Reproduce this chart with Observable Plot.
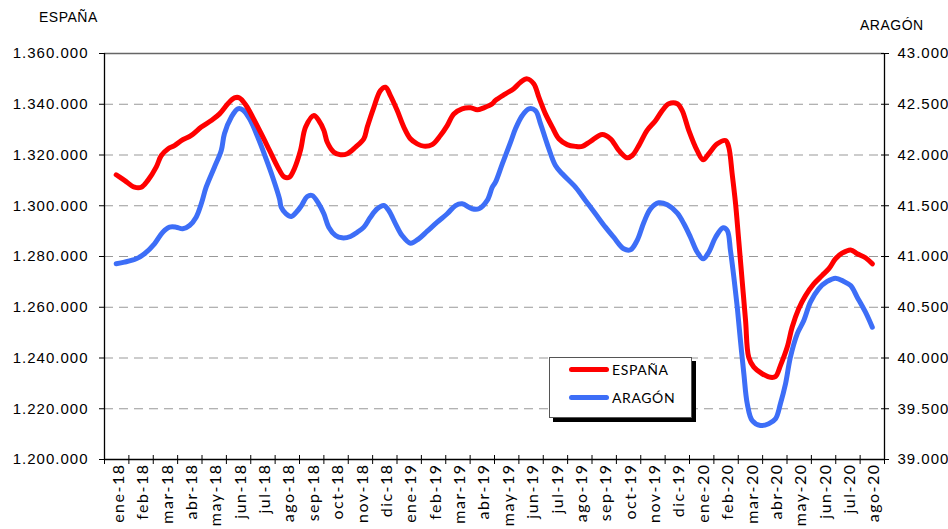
<!DOCTYPE html>
<html>
<head>
<meta charset="utf-8">
<script src="https://cdn.jsdelivr.net/npm/d3@7"></script>
<script src="https://cdn.jsdelivr.net/npm/@observablehq/plot@0.6"></script>
<style>
  html, body { margin: 0; padding: 0; background: #fff; }
  #wrap { position: relative; width: 948px; height: 529px; overflow: hidden; }
  #chart svg { overflow: visible; }
  .ttl { position: absolute; font-family: "Liberation Sans", Arial, sans-serif; font-size: 14px; color: #000; letter-spacing: 0.5px; }
  #legend { position: absolute; left: 549px; top: 357px; width: 141px; height: 59px; border: 1px solid #555; background: #fff; box-shadow: 4px 4px 0 #000; font-family: Lato, sans-serif; font-size: 14px; letter-spacing: 0.6px; }
  #legend .row { position: absolute; left: 19px; display: flex; align-items: center; }
  #legend .bar { width: 40px; height: 5px; border-radius: 3px; margin-right: 3px; }
</style>
</head>
<body>
<div id="wrap">
  <div id="chart"></div>
  <div class="ttl" style="left:39px; top:9px;">ESPAÑA</div>
  <div class="ttl" style="left:860px; top:17px;">ARAGÓN</div>
  <div id="legend">
    <div class="row" style="top:3px;"><div class="bar" style="background:#ff0000"></div><span>ESPAÑA</span></div>
    <div class="row" style="top:31px;"><div class="bar" style="background:#3d6ef7"></div><span>ARAGÓN</span></div>
  </div>
</div>
<script>
// Month labels (categories)
const monthLabels = ["ene-18","feb-18","mar-18","abr-18","may-18","jun-18","jul-18","ago-18","sep-18","oct-18","nov-18","dic-18",
  "ene-19","feb-19","mar-19","abr-19","may-19","jun-19","jul-19","ago-19","sep-19","oct-19","nov-19","dic-19",
  "ene-20","feb-20","mar-20","abr-20","may-20","jun-20","jul-20","ago-20"];

// Tick values
const espTicks = [1200000,1220000,1240000,1260000,1280000,1300000,1320000,1340000,1360000];
const araTicks = [39000,39500,40000,40500,41000,41500,42000,42500,43000];

// ESPAÑA series: time in months since start of ene-18, and value
const tEsp = [0.48,0.82,1.23,1.51,1.78,2.12,2.33,2.60,2.87,3.15,
  3.56,3.97,4.38,4.72,5.06,5.33,5.54,5.81,6.08,6.43,
  6.77,7.11,7.38,7.59,7.79,8.04,8.25,8.59,8.79,9.00,
  9.14,9.41,9.68,9.96,10.30,10.64,10.78,11.05,11.32,11.53,
  11.73,12.01,12.28,12.55,12.83,13.10,13.44,13.78,14.06,14.33,
  14.67,15.02,15.29,15.56,15.91,16.04,16.45,16.79,17.07,17.34,
  17.61,17.82,18.09,18.37,18.64,18.98,19.32,19.60,19.94,20.42,
  20.76,21.10,21.44,21.65,21.92,22.26,22.61,22.88,23.15,23.50,
  23.70,23.97,24.31,24.56,24.79,25.14,25.48,25.61,25.75,25.89,
  26.02,26.16,26.30,26.43,26.64,26.98,27.32,27.53,27.73,28.01,
  28.21,28.48,28.76,29.10,29.44,29.72,29.99,30.26,30.61,30.88,
  31.22,31.50];
const espana = [1312200,1310000,1307300,1307300,1310000,1315200,1319800,1322400,1323700,1325700,
  1327700,1331000,1333600,1336200,1340200,1342500,1342500,1339500,1334900,1328400,
  1321800,1315200,1311300,1311300,1314600,1321800,1331000,1335600,1333600,1329700,
  1325000,1321100,1320100,1320500,1323100,1326400,1331000,1338800,1345400,1346700,
  1343400,1337500,1331000,1326400,1324400,1323500,1324100,1327700,1331600,1336200,
  1338200,1338600,1337800,1338600,1340200,1341500,1344100,1346100,1348700,1350000,
  1348100,1342800,1336200,1331000,1326400,1324100,1323400,1323400,1325400,1328100,
  1326400,1321800,1318900,1319800,1323700,1329700,1333600,1337500,1340200,1340200,
  1337500,1329700,1321800,1318100,1320500,1324400,1325700,1323100,1312600,1300800,
  1286300,1270500,1254800,1240300,1236400,1233800,1232400,1232700,1237000,1244300,
  1252100,1259400,1264600,1269200,1272500,1275200,1279100,1281300,1282600,1281100,
  1279500,1277100];

// ARAGÓN series
const tAra = [0.48,0.82,1.30,1.64,2.05,2.39,2.67,2.94,3.21,3.49,
  3.76,3.97,4.17,4.51,4.79,4.92,5.20,5.47,5.67,5.95,
  6.29,6.63,6.90,7.18,7.25,7.45,7.66,7.93,8.08,8.32,
  8.52,8.79,9.00,9.20,9.48,9.75,10.09,10.37,10.64,10.91,
  11.19,11.46,11.66,11.94,12.21,12.55,12.89,13.24,13.65,14.06,
  14.40,14.67,15.08,15.36,15.70,15.91,16.04,16.32,16.66,16.86,
  17.14,17.41,17.68,17.89,18.16,18.50,18.78,19.32,19.73,20.14,
  20.55,20.89,21.30,21.58,21.85,22.13,22.40,22.74,23.09,23.50,
  23.77,24.04,24.32,24.56,24.79,25.07,25.38,25.55,25.68,25.82,
  25.96,26.09,26.23,26.37,26.57,26.91,27.25,27.53,27.73,27.94,
  28.14,28.42,28.69,28.96,29.30,29.65,29.99,30.33,30.61,30.88,
  31.22,31.50];
const aragon = [40928,40944,40977,41027,41125,41239,41289,41289,41273,41305,
  41387,41519,41683,41880,42044,42209,42372,42455,42445,42357,
  42175,41962,41781,41568,41486,41421,41394,41453,41502,41591,
  41601,41519,41421,41289,41207,41184,41197,41239,41289,41387,
  41470,41502,41453,41322,41207,41131,41174,41249,41338,41421,
  41502,41519,41470,41470,41552,41683,41732,41913,42126,42258,
  42389,42455,42438,42307,42110,41896,41815,41683,41552,41421,
  41289,41190,41076,41066,41158,41338,41470,41529,41509,41427,
  41322,41190,41042,40977,41042,41190,41283,41256,41059,40796,
  40500,40172,39844,39549,39384,39335,39352,39401,39549,39746,
  40008,40238,40369,40550,40682,40754,40786,40754,40714,40599,
  40451,40303];

const fmt = d3.formatLocale({decimal: ",", thousands: ".", grouping: [3], currency: ["", "€"]}).format(",.0f");

// map the right (Aragón) scale onto the left (España) scale
const e0 = espTicks[0], e1 = espTicks[espTicks.length - 1];
const a0 = araTicks[0], a1 = araTicks[araTicks.length - 1];
const toLeft = a => e0 + (a - a0) * (e1 - e0) / (a1 - a0);
const fromLeft = v => a0 + (v - e0) * (a1 - a0) / (e1 - e0);

const espData = tEsp.map((t, i) => ({t, v: espana[i]}));
const araData = tAra.map((t, i) => ({t, v: aragon[i]}));
const nM = monthLabels.length;

const chart = Plot.plot({
  width: 948,
  height: 529,
  marginLeft: 104,
  marginRight: 64,
  marginTop: 53,
  marginBottom: 70,
  style: {fontFamily: "'Liberation Sans', Arial, sans-serif", fontSize: "15px", color: "#000", background: "#fff"},
  x: {domain: [0, nM]},
  y: {domain: [e0, e1]},
  marks: [
    Plot.ruleY(espTicks.slice(1, -1), {stroke: "#999", strokeDasharray: "9,6", strokeWidth: 1}),
    Plot.ruleY([e1], {stroke: "#666", strokeWidth: 1.5}),
    Plot.axisY({ticks: espTicks, tickSize: 5, tickPadding: 11, tickFormat: fmt, label: null, stroke: "#000"}),
    Plot.axisY({anchor: "right", ticks: araTicks.map(toLeft), tickSize: 8, dx: -4, tickPadding: 9, tickFormat: v => fmt(Math.round(fromLeft(v))), label: null, stroke: "#000"}),
    Plot.axisX({ticks: d3.range(nM + 1), tickSize: 9, dy: -4, tickFormat: () => "", label: null, stroke: "#000"}),
    Plot.axisX({ticks: d3.range(nM).map(i => i + 0.5), tickSize: 0, tickPadding: 4, tickRotate: -90, tickFormat: d => monthLabels[Math.floor(d)], label: null, dx: 2, fontSize: 16, fontFamily: "Lato, 'Open Sans', sans-serif"}),
    Plot.ruleX([0], {stroke: "#000", strokeWidth: 1.3}),
    Plot.ruleX([nM], {stroke: "#000", strokeWidth: 1.3}),
    Plot.ruleY([e0], {stroke: "#000", strokeWidth: 1.3}),
    Plot.line(araData, {x: "t", y: d => toLeft(d.v), stroke: "#3d6ef7", strokeWidth: 5, curve: "catmull-rom"}),
    Plot.line(espData, {x: "t", y: "v", stroke: "#ff0000", strokeWidth: 5, curve: "catmull-rom"})
  ]
});
document.getElementById("chart").appendChild(chart);

// fine typography: letter spacing like the original
d3.select(chart).selectAll("text").each(function() {
  const s = this.textContent;
  if (monthLabels.includes(s)) {
    d3.select(this).style("font-family", "Lato, 'Open Sans', sans-serif").style("font-size", "16px").style("letter-spacing", "1.5px");
  } else if (/^\d{1,3}(\.\d{3})+$/.test(s)) {
    d3.select(this).style("letter-spacing", "1px");
  }
});
</script>
</body>
</html>
